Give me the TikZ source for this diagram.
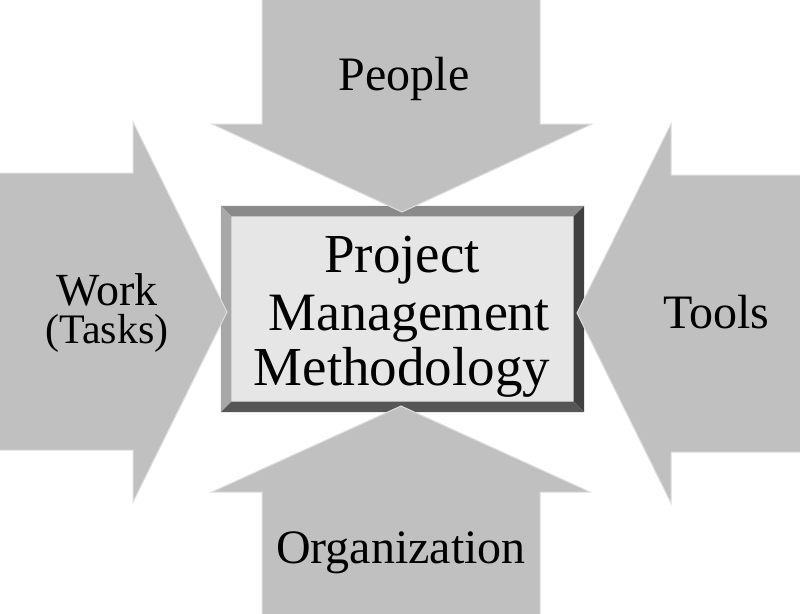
\documentclass[tikz,border=0pt]{standalone}
\usepackage{fontspec}
\setmainfont{Liberation Serif}
\usetikzlibrary{calc}
\definecolor{arrowgray}{HTML}{C0C0C0}
\definecolor{edgegray}{HTML}{DDDDDD}
\definecolor{boxfill}{HTML}{E6E6E6}
\definecolor{bevtop}{HTML}{8A8A8A}
\definecolor{bevleft}{HTML}{A8A8A8}
\definecolor{bevright}{HTML}{404040}
\definecolor{bevbottom}{HTML}{565656}
\begin{document}
\begin{tikzpicture}[x=1pt,y=-1pt,
  blockarrow/.style={fill=arrowgray, draw=edgegray, line width=1pt, line join=miter},
  lbl/.style={inner sep=0pt, anchor=base, text=black},
  bigbox/.style={fill=boxfill, draw=none, minimum width=363pt, minimum height=206pt, inner sep=0pt}]
\useasboundingbox (0,0) rectangle (800,613);
% central bevelled box
\node[bigbox] (box) at (402.5,309) {};
\coordinate (inw) at ($(box.north west)+(10.5,10.5)$);
\coordinate (ine) at ($(box.north east)+(-10.5,10.5)$);
\coordinate (isw) at ($(box.south west)+(10.5,-10.5)$);
\coordinate (ise) at ($(box.south east)+(-10.5,-10.5)$);
\fill[bevtop] (box.north west) -- (box.north east) -- (ine) -- (inw) -- cycle;
\fill[bevleft] (box.north west) -- (inw) -- (isw) -- (box.south west) -- cycle;
\fill[bevright] (box.north east) -- (box.south east) -- (ise) -- (ine) -- cycle;
\fill[bevbottom] (box.south west) -- (isw) -- (ise) -- (box.south east) -- cycle;
% block arrows
\path[blockarrow] (262,-2) -- (540,-2) -- (540,124) -- (592,124) -- (402,212) -- (212,124) -- (262,124) -- cycle;
\path[blockarrow] (-2,173) -- (133,173) -- (133,122) -- (227,312) -- (133,502) -- (133,450) -- (-2,450) -- cycle;
\path[blockarrow] (802,175) -- (671,175) -- (671,124) -- (577,313) -- (671,503) -- (671,452) -- (802,452) -- cycle;
\path[blockarrow] (262,615) -- (540,615) -- (540,492) -- (590,492) -- (401,406) -- (212,492) -- (262,492) -- cycle;
% labels
\node[lbl, font=\fontsize{48}{48}\selectfont] (people) at (404,90) {People};
\node[lbl, font=\fontsize{55}{55}\selectfont] (pm1) at (402,272) {Project};
\node[lbl, font=\fontsize{54}{54}\selectfont] (pm2) at (409,330) {Management};
\node[lbl, font=\fontsize{55}{55}\selectfont] (pm3) at (402,385) {Methodology};
\node[inner sep=0pt, anchor=north, align=center, text=black,
      font=\fontsize{42}{38}\selectfont] (work) at (107,273.5)
      {{\fontsize{46}{38}\selectfont Work}\\(Tasks)};
\node[lbl, font=\fontsize{48}{48}\selectfont] (tools) at (716,328) {Tools};
\node[lbl, font=\fontsize{48}{48}\selectfont] (org) at (401,563) {Organization};
\end{tikzpicture}
\end{document}
